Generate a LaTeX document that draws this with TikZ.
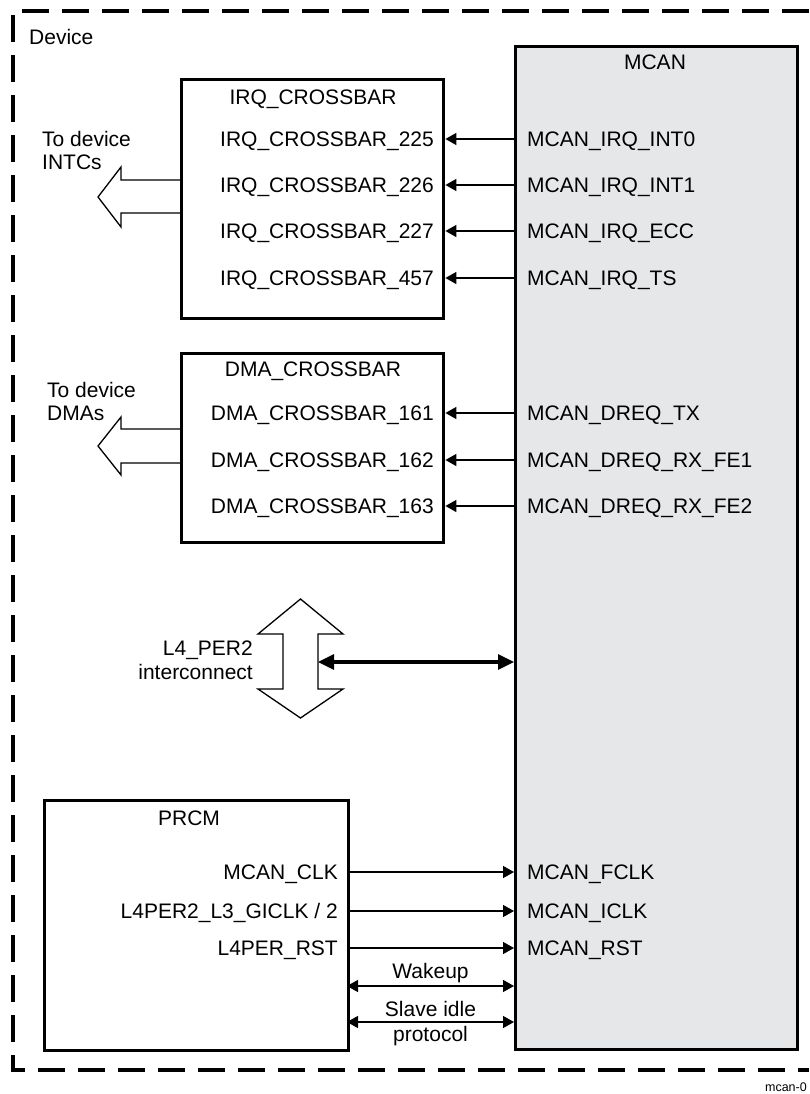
\documentclass[tikz,border=0pt]{standalone}
\usepackage{fontspec}
\setmainfont{Liberation Sans}
\usepackage{xcolor}
\usetikzlibrary{positioning, arrows.meta}

\definecolor{mcangray}{HTML}{E6E7E8}

\begin{document}
\begin{tikzpicture}[
      x=1pt, y=-1pt,
      font=\fontsize{21}{23.5}\selectfont,
      box/.style={draw, line width=3.4pt, inner sep=0pt, anchor=north west},
      core/.style={draw, line width=2.6pt, fill=mcangray, inner sep=0pt, anchor=north west},
      lbl/.style={inner sep=2pt, text height=15pt, text depth=0pt},
      sig/.style={-{Triangle[length=11pt, width=12pt]}, line width=1.4pt},
      dsig/.style={{Triangle[length=11pt, width=12pt]}-{Triangle[length=11pt, width=12pt]}, line width=1.4pt},
      bus/.style={{Triangle[length=16pt, width=15pt]}-{Triangle[length=16pt, width=15pt]}, line width=3.2pt},
      hollow/.style={draw, line width=1.3pt, fill=white, line join=miter},
      border/.style={line width=3.4pt, dash pattern=on 27pt off 13pt},
    ]
    \useasboundingbox (0,0) rectangle (809,1094);

    % Device outline
    \draw[border] (809,11) -- (13,11) -- (13,1070) -- (809,1070);
    \node[lbl, anchor=west] (dev) at (27,37) {Device};

    % MCAN module
    \node[core, minimum width=282pt, minimum height=1003pt] (mcan) at (514,45) {};
    \node[lbl] (mcantitle) at (655,62) {MCAN};

    % IRQ crossbar
    \draw[hollow] (180,180) -- (121,180) -- (121,167) -- (98,197) -- (121,227) -- (121,213) -- (180,213);
    \node[box, minimum width=262pt, minimum height=239pt] (irq) at (180,78) {};
    \node[lbl] (irqtitle) at (313,97) {IRQ\_CROSSBAR};
    \node[anchor=north west, align=left, inner sep=0pt] (intc) at (42,131) {To device\\INTCs};

    \node[lbl, anchor=east] (x225) at (436,139) {IRQ\_CROSSBAR\_225};
    \node[lbl, anchor=east] (x226) at (436,185) {IRQ\_CROSSBAR\_226};
    \node[lbl, anchor=east] (x227) at (436,231) {IRQ\_CROSSBAR\_227};
    \node[lbl, anchor=east] (x457) at (436,278) {IRQ\_CROSSBAR\_457};
    \node[lbl, anchor=west] (int0) at (525,139) {MCAN\_IRQ\_INT0};
    \node[lbl, anchor=west] (int1) at (525,185) {MCAN\_IRQ\_INT1};
    \node[lbl, anchor=west] (ecc) at (525,231) {MCAN\_IRQ\_ECC};
    \node[lbl, anchor=west] (ts) at (525,278) {MCAN\_IRQ\_TS};

    % DMA crossbar
    \draw[hollow] (180,429) -- (121,429) -- (121,417) -- (98,446) -- (121,475) -- (121,463) -- (180,463);
    \node[box, minimum width=262pt, minimum height=189pt] (dma) at (180,352) {};
    \node[lbl] (dmatitle) at (313,369) {DMA\_CROSSBAR};
    \node[anchor=north west, align=left, inner sep=0pt] (dmas) at (47,382) {To device\\DMAs};

    \node[lbl, anchor=east] (x161) at (436,413) {DMA\_CROSSBAR\_161};
    \node[lbl, anchor=east] (x162) at (436,460) {DMA\_CROSSBAR\_162};
    \node[lbl, anchor=east] (x163) at (436,506) {DMA\_CROSSBAR\_163};
    \node[lbl, anchor=west] (dtx) at (525,413) {MCAN\_DREQ\_TX};
    \node[lbl, anchor=west] (drx1) at (525,460) {MCAN\_DREQ\_RX\_FE1};
    \node[lbl, anchor=west] (drx2) at (525,506) {MCAN\_DREQ\_RX\_FE2};

    % L4_PER2 interconnect
    \draw[hollow] (283,634) -- (258,634) -- (300.5,599) -- (343,634) -- (318,634)
      -- (318,689) -- (343,689) -- (300.5,718) -- (258,689) -- (283,689) -- cycle;
    \coordinate (l4port) at (318,662);
    \node[anchor=north east, align=right, inner sep=0pt] (l4) at (253,641) {L4\_PER2\\interconnect};

    % PRCM
    \node[box, minimum width=304pt, minimum height=250pt] (prcm) at (43,799) {};
    \node[lbl] (prcmtitle) at (189,818) {PRCM};
    \node[lbl, anchor=east] (pclk) at (340,872) {MCAN\_CLK};
    \node[lbl, anchor=east] (gclk) at (340,911) {L4PER2\_L3\_GICLK / 2};
    \node[lbl, anchor=east] (prst) at (340,948) {L4PER\_RST};
    \node[lbl, anchor=west] (fclk) at (525,872) {MCAN\_FCLK};
    \node[lbl, anchor=west] (iclk) at (525,911) {MCAN\_ICLK};
    \node[lbl, anchor=west] (mrst) at (525,948) {MCAN\_RST};
    \coordinate (wake) at (347,986);
    \coordinate (idle) at (347,1022);

    % Connections
    \draw[sig] (mcan.west |- x225) -- (irq.east |- x225);
    \draw[sig] (mcan.west |- x226) -- (irq.east |- x226);
    \draw[sig] (mcan.west |- x227) -- (irq.east |- x227);
    \draw[sig] (mcan.west |- x457) -- (irq.east |- x457);
    \draw[sig] (mcan.west |- x161) -- (dma.east |- x161);
    \draw[sig] (mcan.west |- x162) -- (dma.east |- x162);
    \draw[sig] (mcan.west |- x163) -- (dma.east |- x163);
    \draw[bus] (l4port) -- (mcan.west |- l4port);
    \draw[sig] (prcm.east |- pclk) -- (mcan.west |- pclk);
    \draw[sig] (prcm.east |- gclk) -- (mcan.west |- gclk);
    \draw[sig] (prcm.east |- prst) -- (mcan.west |- prst);
    \draw[dsig] (wake) -- (mcan.west |- wake)
      node[lbl, midway, above=5pt] {Wakeup};
    \draw[dsig] (idle) -- (mcan.west |- idle)
      node[lbl, midway, above=3pt] {Slave idle}
      node[lbl, midway, below=2pt] {protocol};

    \node[font=\fontsize{12.5}{14}\selectfont, anchor=east, inner sep=0pt] (fig) at (807,1087) {mcan-0};
  \end{tikzpicture}
\end{document}
